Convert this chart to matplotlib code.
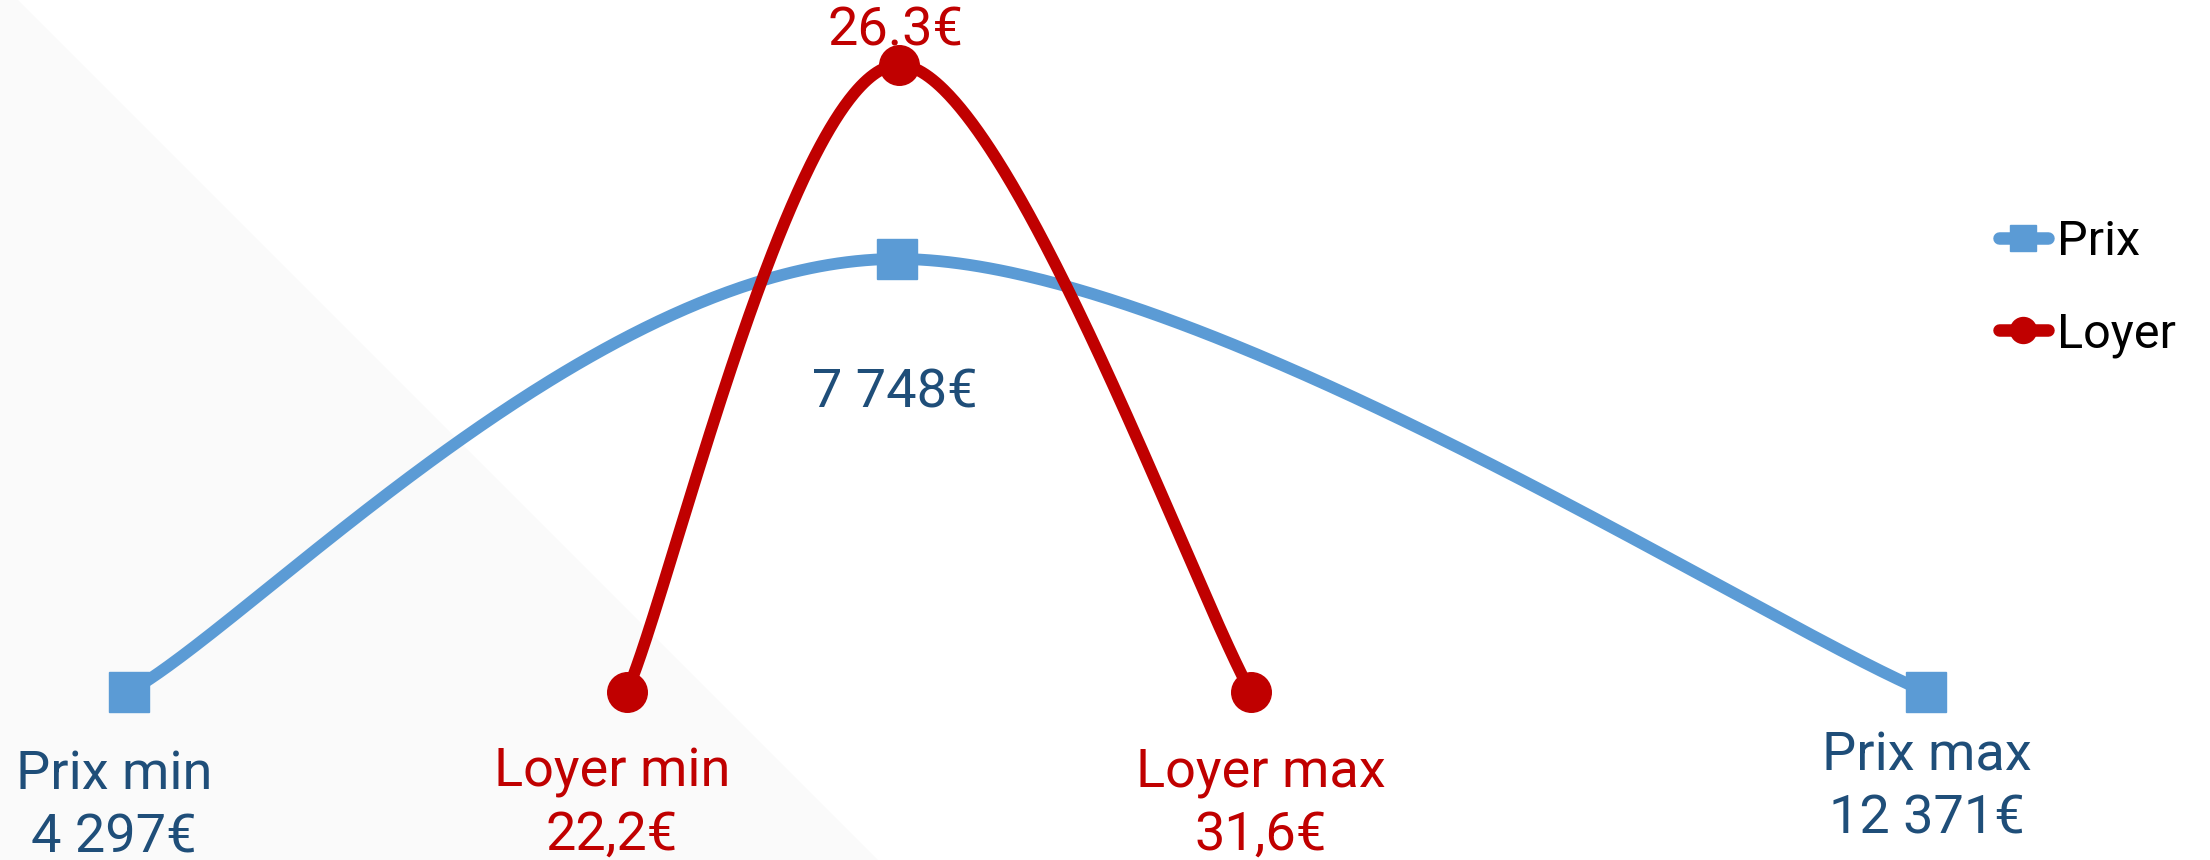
import numpy as np
import matplotlib.pyplot as plt
from matplotlib.lines import Line2D

plt.rcParams['font.family'] = ['Roboto', 'DejaVu Sans']

# data
prix_names = ['Prix min', '', 'Prix max']
prix_values = [4297, 7748, 12371]
prix_levels = [0, 1.0, 0]
prix_labels = ['4 297€', '7 748€', '12 371€']

loyer_names = ['Loyer min', '', 'Loyer max']
loyer_values = [22.2, 26.3, 31.6]
loyer_levels = [0, 1.448, 0]
loyer_labels = ['22,2€', '26.3€', '31,6€']

blue = '#5B9BD5'
red = '#C00000'
dark_blue = '#1F4E79'


def spline(axis, xs, ys, f=1 / 6, steps=200):
    # office-style smoothed line (bezier, tangents from neighbours), in pixel space
    p = axis.transData.transform(np.column_stack([xs, ys]))
    n = len(p)
    pts = []
    t = np.linspace(0, 1, steps)[:, None]
    for i in range(n - 1):
        p0 = p[max(i - 1, 0)]
        p1 = p[i]
        p2 = p[i + 1]
        p3 = p[min(i + 2, n - 1)]
        d12 = np.hypot(*(p2 - p1))
        v1 = (p2 - p0) * f
        v2 = (p3 - p1) * f
        # keep tangents shorter than half the segment
        if np.hypot(*v1) > d12 / 2:
            v1 = v1 * (d12 / 2) / np.hypot(*v1)
        if np.hypot(*v2) > d12 / 2:
            v2 = v2 * (d12 / 2) / np.hypot(*v2)
        b1 = p1 + v1
        b2 = p2 - v2
        seg = ((1 - t) ** 3) * p1 + 3 * ((1 - t) ** 2) * t * b1 + 3 * (1 - t) * t ** 2 * b2 + t ** 3 * p2
        pts.append(seg)
    pts = axis.transData.inverted().transform(np.vstack(pts))
    return pts[:, 0], pts[:, 1]


fig = plt.figure(figsize=(22.1, 8.6), dpi=100)
ax = fig.add_axes([0, 0, 1, 1])
ax2 = ax.twiny()
ax.set_xlim(3718, 13646)
ax2.set_xlim(12.757, 46.05)
ax.set_ylim(-0.388, 1.598)
ax.axis('off')
ax2.axis('off')

# light background triangle
ax.fill([0, 18 / 2210, 878 / 2210, 0], [1, 1, 0, 0], color='#FAFAFA',
        transform=ax.transAxes, zorder=0, lw=0)

# Prix
sx, sy = spline(ax, prix_values, prix_levels)
ax.plot(sx, sy, color=blue, lw=8.5, solid_capstyle='round', zorder=2)
ax.plot(prix_values, prix_levels, ls='none', marker='s', ms=28.5, color=blue, zorder=3)

# Loyer
sx, sy = spline(ax2, loyer_values, loyer_levels)
ax2.plot(sx, sy, color=red, lw=8.5, solid_capstyle='round', zorder=4)
ax2.plot(loyer_values, loyer_levels, ls='none', marker='o', ms=28.5, color=red, zorder=5)

fs = 39
prix_off = [(-10.8, -69.5, -115.6), (-1.4, None, -107.3), (0.7, -56.5, -101.9)]
loyer_off = [(-10.8, -67.7, -113.8), (-2.5, None, 13.7), (7.2, -67.7, -113.8)]

for i in range(3):
    dx, dyn, dyv = prix_off[i]
    if prix_names[i]:
        ax.annotate(prix_names[i], (prix_values[i], prix_levels[i]), xytext=(dx, dyn),
                    textcoords='offset points', ha='center', va='baseline',
                    fontsize=fs, color=dark_blue, zorder=6)
    ax.annotate(prix_labels[i], (prix_values[i], prix_levels[i]), xytext=(dx, dyv),
                textcoords='offset points', ha='center', va='baseline',
                fontsize=fs, color=dark_blue, zorder=6)

    dx, dyn, dyv = loyer_off[i]
    if loyer_names[i]:
        ax2.annotate(loyer_names[i], (loyer_values[i], loyer_levels[i]), xytext=(dx, dyn),
                     textcoords='offset points', ha='center', va='baseline',
                     fontsize=fs, color=red, zorder=6)
    ax2.annotate(loyer_labels[i], (loyer_values[i], loyer_levels[i]), xytext=(dx, dyv),
                 textcoords='offset points', ha='center', va='baseline',
                 fontsize=fs, color=red, zorder=6)

# legend
handles = [
    Line2D([], [], color=blue, lw=9, marker='s', ms=18.7, solid_capstyle='round'),
    Line2D([], [], color=red, lw=9, marker='o', ms=18.7, solid_capstyle='round'),
]
fig.legend(handles, ['Prix', 'Loyer'], loc='upper left', bbox_to_anchor=(0.9045, 0.745),
           frameon=False, fontsize=35, handlelength=1.0, handletextpad=0.2,
           labelspacing=0.95, borderpad=0, borderaxespad=0, numpoints=1)

fig.savefig('out.png', dpi=100)
